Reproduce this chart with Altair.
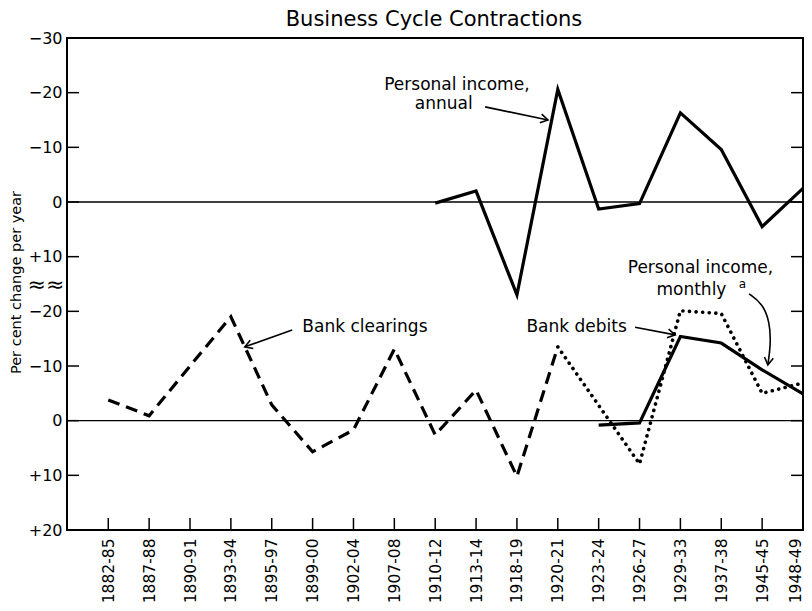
import altair as alt
import pandas as pd

# ---------------- data ----------------
categories = ["1882-85", "1887-88", "1890-91", "1893-94", "1895-97", "1899-00",
              "1902-04", "1907-08", "1910-12", "1913-14", "1918-19", "1920-21",
              "1923-24", "1926-27", "1929-33", "1937-38", "1945-45", "1948-49"]

# upper panel: personal income, annual (starts at 1910-12)
annual_start = 8
annual_values = [0.2, -2.0, 17.0, -20.6, 1.3, 0.3, -16.3, -9.6, 4.5, -2.5]

# lower panel
clearings_start = 0
clearings_values = [-3.8, -0.9, -10.0, -19.0, -2.9, 5.7, 1.7, -13.1, 2.6, -5.6, 10.2, -13.5]
debits_start = 11
debits_values = [-13.5, -2.8, 7.9, -20.1, -19.6, -5.0, -6.9]
monthly_start = 12
monthly_values = [0.8, 0.4, -15.4, -14.2, -9.3, -4.9]

# the upper panel sits 40 units above the lower one on a shared broken axis
top_offset = -40
y_tick_positions = [-70, -60, -50, -40, -30, -20, -10, 0, 10, 20]
y_tick_labels = ["\u221230", "\u221220", "\u221210", "0", "+10",
                 "\u221220", "\u221210", "0", "+10", "+20"]

title_text = "Business Cycle Contractions"

FONT = "DejaVu Sans"

rows = []
for name, start, vals, off in [("annual", annual_start, annual_values, top_offset),
                               ("clearings", clearings_start, clearings_values, 0),
                               ("debits", debits_start, debits_values, 0),
                               ("monthly", monthly_start, monthly_values, 0)]:
    for i, v in enumerate(vals):
        rows.append({"series": name, "x": start + i, "y": v + off, "order": i})
df = pd.DataFrame(rows)

# ---------------- annotations ----------------
labels_df = pd.DataFrame([
    {"text": "Personal income,", "x": 8.53, "y": -61.4},
    {"text": "annual", "x": 8.21, "y": -57.9},
    {"text": "Bank clearings", "x": 6.28, "y": -17.1},
    {"text": "Bank debits", "x": 11.46, "y": -17.1},
    {"text": "Personal income,", "x": 14.49, "y": -27.9},
    {"text": "monthly", "x": 14.27, "y": -23.9},
])
sup_df = pd.DataFrame([{"text": "a", "x": 15.52, "y": -25.0}])

arrows_df = pd.DataFrame([
    {"id": "a1", "o": 0, "x": 9.22, "y": -57.4}, {"id": "a1", "o": 1, "x": 10.76, "y": -55.0},
    {"id": "a2", "o": 0, "x": 4.50, "y": -16.6}, {"id": "a2", "o": 1, "x": 3.34, "y": -13.5},
    {"id": "a3", "o": 0, "x": 12.89, "y": -17.1}, {"id": "a3", "o": 1, "x": 13.87, "y": -15.7},
])
curve_df = pd.DataFrame([
    {"o": 0, "x": 15.68, "y": -23.2}, {"o": 1, "x": 16.00, "y": -21.5},
    {"o": 2, "x": 16.19, "y": -18.1}, {"o": 3, "x": 16.21, "y": -13.8},
    {"o": 4, "x": 16.14, "y": -10.2},
])
heads_df = pd.DataFrame([
    {"x": 10.76, "y": -55.0, "angle": 12},
    {"x": 3.34, "y": -13.5, "angle": 160},
    {"x": 13.87, "y": -15.7, "angle": 11},
    {"x": 16.14, "y": -10.2, "angle": 98},
])

xscale = alt.Scale(domain=[-1.01, 17], nice=False, zero=False)
yscale = alt.Scale(domain=[-70, 20], nice=False, zero=False, reverse=True)

x_label_expr = "[" + ",".join("'%s'" % c for c in categories) + "][datum.value]"
y_label_expr = ("[" + ",".join("'%s'" % l for l in y_tick_labels) + "][indexof(["
                + ",".join(str(v) for v in y_tick_positions) + "], datum.value)]")
last_index = len(categories) - 1

yaxis = alt.Axis(values=y_tick_positions, labelExpr=y_label_expr, ticks=False, tickSize=0,
                 domain=False, grid=False, labelFont=FONT, labelFontSize=16,
                 labelColor="black", labelPadding=5,
                 title="Per cent change per year", titleFont=FONT, titleFontSize=14.5,
                 titleFontWeight="normal", titleColor="black", titleAngle=270,
                 titleX=-51, titleY=244, titleAlign="center", titleBaseline="middle")
xaxis = alt.Axis(values=list(range(len(categories))), labelExpr=x_label_expr, ticks=False,
                 tickSize=0, domain=False, grid=False, labelFont=FONT, labelFontSize=15.5,
                 labelColor="black", labelAngle=270, labelPadding=8, title=None,
                 labelAlign="right",
                 labelBaseline={"condition": {"test": f"datum.value == {last_index}",
                                              "value": "bottom"},
                                "value": "middle"})

def X(field="x"):
    return alt.X(f"{field}:Q", scale=xscale, axis=xaxis)

def Y(field="y"):
    return alt.Y(f"{field}:Q", scale=yscale, axis=yaxis)

ticks_df = pd.DataFrame({"t": y_tick_positions})
cat_df = pd.DataFrame({"x": list(range(len(categories)))})
zero_df = pd.DataFrame({"z": [0, top_offset]})
break_df = pd.DataFrame({"b": [-24.8], "s": ["\u2248\u2248"]})
title_df = pd.DataFrame({"s": [title_text]})

left_ticks = alt.Chart(ticks_df).mark_rule(color="black", strokeWidth=1.5).encode(
    y=Y("t"), x=alt.value(0), x2=alt.value(12))
right_ticks = alt.Chart(ticks_df).mark_rule(color="black", strokeWidth=1.5).encode(
    y=Y("t"), x=alt.value(724), x2=alt.value(736))
bottom_ticks = alt.Chart(cat_df).mark_rule(color="black", strokeWidth=1.5).encode(
    x=X("x"), y=alt.value(480), y2=alt.value(492))
zero_lines = alt.Chart(zero_df).mark_rule(color="black", strokeWidth=1.3).encode(
    y=Y("z"), x=alt.value(0), x2=alt.value(736))
break_mark = alt.Chart(break_df).mark_text(font=FONT, fontSize=22, color="black",
                                           baseline="middle", align="center").encode(
    y=Y("b"), x=alt.value(-21), text="s:N")
title_mark = alt.Chart(title_df).mark_text(font=FONT, fontSize=21, color="black",
                                           baseline="middle", align="center").encode(
    x=alt.value(367), y=alt.value(-18), text="s:N")

base = alt.Chart(df)
annual = base.transform_filter(alt.datum.series == "annual").mark_line(
    color="black", strokeWidth=3.2).encode(x=X(), y=Y(), order="order:Q")
clearings = base.transform_filter(alt.datum.series == "clearings").mark_line(
    color="black", strokeWidth=3.2, strokeDash=[12, 7]).encode(x=X(), y=Y(), order="order:Q")
debits = base.transform_filter(alt.datum.series == "debits").mark_line(
    color="black", strokeWidth=3.6, strokeDash=[0.1, 6.5], strokeCap="round").encode(
    x=X(), y=Y(), order="order:Q")
monthly = base.transform_filter(alt.datum.series == "monthly").mark_line(
    color="black", strokeWidth=3.2).encode(x=X(), y=Y(), order="order:Q")

texts = alt.Chart(labels_df).mark_text(font=FONT, fontSize=17, color="black",
                                       baseline="middle", align="center").encode(
    x=X(), y=Y(), text="text:N")
sup = alt.Chart(sup_df).mark_text(font=FONT, fontSize=12, color="black",
                                  baseline="middle", align="center").encode(
    x=X(), y=Y(), text="text:N")
arrows = alt.Chart(arrows_df).mark_line(color="black", strokeWidth=1.6).encode(
    x=X(), y=Y(), detail="id:N", order="o:Q")
curve = alt.Chart(curve_df).mark_line(color="black", strokeWidth=1.6, interpolate="basis").encode(
    x=X(), y=Y(), order="o:Q")
heads = alt.Chart(heads_df).mark_point(shape="M -1 -0.6 L 0 0 L -1 0.6", filled=False,
                                       stroke="black", strokeWidth=1.6, size=220, opacity=1).encode(
    x=X(), y=Y(), angle=alt.Angle("angle:Q", scale=None))

chart = alt.layer(
    left_ticks, bottom_ticks, right_ticks, zero_lines,
    annual, clearings, debits, monthly,
    arrows, curve, heads, texts, sup, break_mark, title_mark,
).properties(
    width=736, height=492,
    autosize=alt.AutoSizeParams(type="none"),
    padding={"left": 59, "top": 30, "right": 1, "bottom": 72},
    background="white",
).configure_view(stroke="black", strokeWidth=2)

chart.save("out.html", embed_options={"renderer": "svg", "actions": False})
